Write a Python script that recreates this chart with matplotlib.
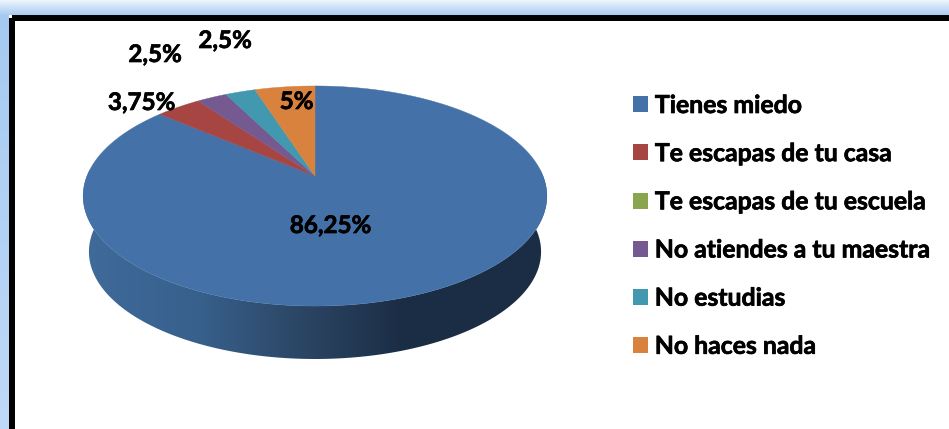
import numpy as np
import matplotlib
matplotlib.use("Agg")
import matplotlib.pyplot as plt
import matplotlib.patheffects as pe
from matplotlib.patches import Polygon, Rectangle, Patch
from matplotlib.colors import LinearSegmentedColormap

categories = ["Tienes miedo", "Te escapas de tu casa", "Te escapas de tu escuela",
              "No atiendes a tu maestra", "No estudias", "No haces nada"]
values = [86.25, 3.75, 0, 2.5, 2.5, 5]
labels = ["86,25%", "3,75%", None, "2,5%", "2,5%", "5%"]
colors = ["#4472A8", "#A74543", "#89A54E", "#745A90", "#4298AF", "#D9823D"]
label_pos = [(330.5, 225.5), (141.5, 102.5), None, (155, 54.5), (225, 40.5), (296.5, 101.5)]

plt.rcParams["font.family"] = ["Lato", "DejaVu Sans"]
W, H = 949, 429
fig = plt.figure(figsize=(W / 100, H / 100), dpi=100)
ax = fig.add_axes([0, 0, 1, 1])
ax.axis("off")

# background and frame
grad = np.linspace(0, 1, 16)[:, None, None]
top = np.array([0.93, 0.96, 0.99])[None, None, :]
bot = np.array([0.65, 0.79, 0.95])[None, None, :]
ax.imshow(top * (1 - grad) + bot * grad, extent=(0, W, 16, 0), aspect="auto", zorder=0)
lg = np.linspace(0, 1, H)[:, None, None]
ax.imshow(np.array([0.65, 0.79, 0.95])[None, None, :] * (1 - lg) +
          np.array([0.75, 0.85, 0.97])[None, None, :] * lg,
          extent=(0, 10, H, 15), aspect="auto", zorder=0.5)
ax.add_patch(Rectangle((9, 15), W, H, fc="white", ec="none", zorder=1))
ax.add_patch(Rectangle((12, 17.7), W + 20, H + 20, fc="none", ec="black", lw=4.3, zorder=1.5))

# projected pie geometry
cx, cy = 315.0, 176.0
a, b, k = 106.4, 228.0, 0.1818
depth = 53.0


def project(theta, scale=1.0, dy=0.0):
    X, Y = np.sin(theta), np.cos(theta)
    d = 1 + k * Y
    return np.c_[cx + scale * b * X / d, cy + dy + scale * a * -Y / d]


edges = np.r_[0, np.cumsum(values)] / np.sum(values) * 2 * np.pi

# side wall with horizontal gradient
t = np.linspace(0, 2 * np.pi, 721)
top_rim = project(t)
bot_rim = project(t, scale=0.975, dy=depth + 3.2)
mask = (t > np.pi / 2 - 0.2) & (t < 3 * np.pi / 2 + 0.2)
side = Polygon(np.r_[top_rim[mask], bot_rim[mask][::-1]], closed=True, fc="none", ec="none",
               transform=ax.transData)
ax.add_patch(side)
cmap = LinearSegmentedColormap.from_list(
    "side", [(0, "#3F6A9A"), (0.25, "#37608C"), (0.46, "#2C4766"), (0.68, "#1C2E46"),
             (1, "#1B2D44")])
im = ax.imshow(np.linspace(0, 1, 256)[None, :], extent=(83, 548, 365, 170), cmap=cmap,
               aspect="auto", zorder=2)
im.set_clip_path(side)
ax.set_xlim(0, W)
ax.set_ylim(H, 0)

# top face
for i, c in enumerate(colors):
    if values[i] == 0:
        continue
    th = np.linspace(edges[i], edges[i + 1], 240)
    ax.add_patch(Polygon(np.r_[[[cx, cy]], project(th)], closed=True, fc=c, ec=c, lw=0.3, zorder=3))

heavy = [pe.withStroke(linewidth=0.5, foreground="black")]

# data labels
for lab, pos in zip(labels, label_pos):
    if lab:
        ax.text(pos[0], pos[1], lab, ha="center", va="center", fontsize=17.4,
                fontweight="bold", color="black", zorder=5, path_effects=heavy)

# legend
handles = [Patch(fc=c, ec="none") for c in colors]
leg = ax.legend(handles, categories, loc="upper left", bbox_to_anchor=(633 / W, 1 - 94 / H),
                frameon=False, ncol=1, prop={"size": 17.85, "weight": "bold", "family": "Lato"},
                handlelength=0.61, handleheight=0.61, handletextpad=0.27, labelspacing=1.015,
                borderpad=0, borderaxespad=0)
for txt in leg.get_texts():
    txt.set_path_effects(heavy)

fig.savefig("out.png", dpi=100)
